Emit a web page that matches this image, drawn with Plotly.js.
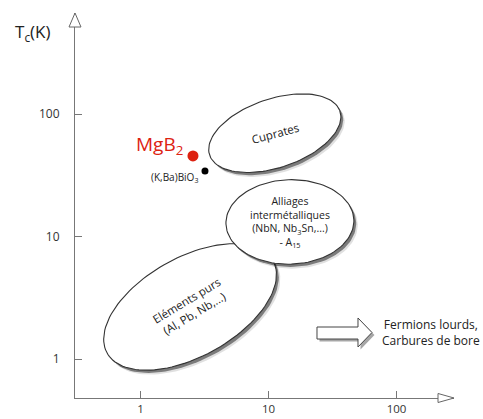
<!DOCTYPE html>
<html><head><meta charset="utf-8">
<script src="https://cdn.plot.ly/plotly-3.0.1.min.js"></script>
<style>html,body{margin:0;padding:0;background:#fff}#chart{width:483px;height:419px}</style>
</head><body><div id="chart"></div>
<script>
// ---- axis ticks ----
var xTickVals = [1, 10, 100];
var xTickText = ['1', '10', '100'];
var yTickVals = [1, 10, 100];
var yTickText = ['1', '10', '100'];

// ---- material families (ellipses) : centre, semi-axes in decades, tilt in degrees ----
var familyLabels = [
  'Eléments purs<br>(Al, Pb, Nb,...)',
  'Alliages<br>intermétalliques<br>(NbN, Nb<sub>3</sub>Sn,...)<br>- A<sub>15</sub>',
  'Cuprates'
];
var familyCenterX = [2.44, 14.7, 11.2];
var familyCenterTc = [2.67, 13.2, 70];
var familySemiMajor = [0.75, 0.50, 0.54];
var familySemiMinor = [0.40, 0.345, 0.28];
var familyTilt = [31, 2, 20];
var familyLabelAngle = [-31, 0, -15];

// ---- individual compounds ----
var compoundNames = ['MgB<sub>2</sub>', '(K,Ba)BiO<sub>3</sub>'];
var compoundX = [2.57, 3.19];
var compoundTc = [45.6, 34.4];
var compoundColors = ['#dd2211', '#000000'];

// ---- other families (arrow note) ----
var otherFamilies = ['Fermions lourds,', 'Carbures de bore'];

var FONT = 'Open Sans, Lato, sans-serif';
var log10 = Math.log10;

// plot area in pixels (for decorations)
var L = 75, R = 454, T = 13, B = 398;
function px(x) { return (x - L) / (R - L); }
function py(y) { return (B - y) / (B - T); }
function pathPx(pts, dx, dy) {
  dx = dx || 0; dy = dy || 0;
  return pts.map(function (p, i) {
    return (i ? 'L' : 'M') + px(p[0] + dx).toFixed(4) + ',' + py(p[1] + dy).toFixed(4);
  }).join(' ') + ' Z';
}

function ellipsePts(i, ox, oy) {
  var xs = [], ys = [], n = 120;
  var th = familyTilt[i] * Math.PI / 180;
  var a = familySemiMajor[i], b = familySemiMinor[i];
  var cx = log10(familyCenterX[i]) + ox, cy = log10(familyCenterTc[i]) + oy;
  for (var k = 0; k <= n; k++) {
    var t = 2 * Math.PI * k / n;
    var u = a * Math.cos(t), v = b * Math.sin(t);
    xs.push(Math.pow(10, cx + u * Math.cos(th) - v * Math.sin(th)));
    ys.push(Math.pow(10, cy + u * Math.sin(th) + v * Math.cos(th)));
  }
  return {x: xs, y: ys};
}

var traces = [];
for (var i = 0; i < familyLabels.length; i++) {
  var s2 = ellipsePts(i, 0.03, -0.036);
  traces.push({type: 'scatter', mode: 'lines', x: s2.x, y: s2.y, fill: 'toself',
    fillcolor: 'rgba(0,0,0,0.12)', line: {width: 0}, hoverinfo: 'skip'});
  var s = ellipsePts(i, 0.018, -0.022);
  traces.push({type: 'scatter', mode: 'lines', x: s.x, y: s.y, fill: 'toself',
    fillcolor: 'rgba(0,0,0,0.45)', line: {width: 0}, hoverinfo: 'skip'});
  var e = ellipsePts(i, 0, 0);
  traces.push({type: 'scatter', mode: 'lines', x: e.x, y: e.y, fill: 'toself',
    fillcolor: '#ffffff', line: {color: '#333333', width: 1.1}, hoverinfo: 'skip'});
}
traces.push({type: 'scatter', mode: 'markers', x: compoundX, y: compoundTc,
  marker: {color: compoundColors, size: [11, 7], opacity: 1, line: {width: 0}},
  cliponaxis: false, hoverinfo: 'skip'});

var annotations = [];
for (var j = 0; j < familyLabels.length; j++) {
  annotations.push({x: log10(familyCenterX[j]), y: log10(familyCenterTc[j]), xref: 'x', yref: 'y',
    text: familyLabels[j], showarrow: false, textangle: familyLabelAngle[j],
    font: {family: FONT, size: j === 1 ? 10.5 : 11.5, color: '#222'}, align: 'center'});
}
annotations.push({x: log10(compoundX[0]), y: log10(compoundTc[0]), xref: 'x', yref: 'y',
  text: compoundNames[0], showarrow: false, xanchor: 'right', yanchor: 'middle', xshift: -8, yshift: 11,
  font: {family: FONT, size: 19, color: compoundColors[0]}});
annotations.push({x: log10(compoundX[1]), y: log10(compoundTc[1]), xref: 'x', yref: 'y',
  text: compoundNames[1], showarrow: false, xanchor: 'right', yanchor: 'middle', xshift: -5, yshift: -7,
  font: {family: FONT, size: 10, color: '#222'}});
annotations.push({x: px(13), y: py(32), xref: 'paper', yref: 'paper', xanchor: 'left', yanchor: 'middle',
  text: 'T<sub>c</sub>(K)', showarrow: false, font: {family: FONT, size: 17, color: '#222'}});
annotations.push({x: px(431), y: py(332.5), xref: 'paper', yref: 'paper', xanchor: 'center', yanchor: 'middle',
  text: otherFamilies.join('<br>'), showarrow: false, align: 'center',
  font: {family: FONT, size: 12, color: '#222'}});

var blockArrow = [[317, 327], [358, 327], [358, 318], [372, 332.5], [358, 347], [358, 339], [317, 339]];
var yArrow = [[75, 13], [81, 27], [69, 27]];
var xArrow = [[454, 398], [438, 402.5], [438, 393.5]];
var shapes = [
  {type: 'path', xref: 'paper', yref: 'paper', path: pathPx(blockArrow, 2.5, 2.5), fillcolor: 'rgba(0,0,0,0.35)', line: {width: 0}, layer: 'above'},
  {type: 'path', xref: 'paper', yref: 'paper', path: pathPx(blockArrow), fillcolor: '#fff', line: {color: '#444', width: 1}, layer: 'above'},
  {type: 'path', xref: 'paper', yref: 'paper', path: pathPx(yArrow), fillcolor: '#fff', line: {color: '#666', width: 1}, layer: 'above'},
  {type: 'path', xref: 'paper', yref: 'paper', path: pathPx(xArrow), fillcolor: '#fff', line: {color: '#666', width: 1}, layer: 'above'}
];

var xr0 = (L - 140.5) / 128, xr1 = (R - 140.5) / 128;
var yr0 = (359.2 - B) / 122.5, yr1 = (359.2 - T) / 122.5;

var layout = {
  width: 483, height: 419,
  margin: {l: L, r: 483 - R, t: T, b: 419 - B, pad: 0},
  paper_bgcolor: '#fff', plot_bgcolor: '#fff',
  showlegend: false, hovermode: false,
  xaxis: {type: 'log', range: [xr0, xr1], showgrid: false, zeroline: false, showline: true,
    linecolor: '#777', linewidth: 1, ticks: 'inside', ticklen: 7, tickcolor: '#777',
    tickvals: xTickVals, ticktext: xTickText, ticklabelstandoff: 0, automargin: false,
    tickfont: {family: FONT, size: 11.5, color: '#333'}, fixedrange: true},
  yaxis: {type: 'log', range: [yr0, yr1], showgrid: false, zeroline: false, showline: true,
    linecolor: '#777', linewidth: 1, ticks: 'inside', ticklen: 7, tickcolor: '#777',
    tickvals: yTickVals, ticktext: yTickText, ticklabelstandoff: 12, automargin: false,
    tickfont: {family: FONT, size: 12, color: '#333'}, fixedrange: true},
  annotations: annotations,
  shapes: shapes
};

Plotly.newPlot('chart', traces, layout, {displayModeBar: false, staticPlot: true});
</script>
</body></html>
